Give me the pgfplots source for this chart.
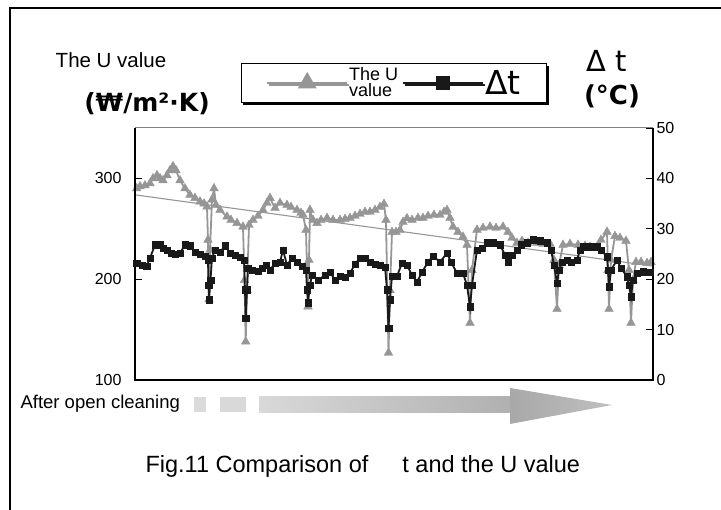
\documentclass[border=0pt]{standalone}
\usepackage{fontspec}
\setmainfont{Liberation Sans}
\newfontfamily\djv{DejaVu Sans}
\usepackage{pgfplots}
\pgfplotsset{compat=1.18}
\usetikzlibrary{shadows}

\definecolor{ugray}{RGB}{150,150,150}
\definecolor{tblack}{RGB}{25,25,25}

% U value (W/m2K), x in pixel units along the axis
\pgfplotstableread{
x U
1.7 290
5 292
10 293
15 295
18 300
22 303
25 300
28 298
32 303
35 308
38 312
41 308
45 298
50 290
55 283.5
60 280.5
65 277
69 275
72 272
73 239
74 180
75 229
77 279
79 290
81 273.6
85 268.6
92 262
96 258.7
102 255.7
108 252
109.5 199
110.7 138
112 189
114 253.8
118 258.7
123 262.7
128 268.6
132 275.6
135 280.5
140 270.6
145 275.6
152 273.6
156 271.6
162 268.6
166 265.7
168 263.7
171 248.8
173 172.7
174 219
175 268.6
178 258.7
182 255.7
186 258.7
192 260.7
198 258.7
205 258.7
210 259.7
215 260.7
220 262.7
225 264.7
230 266.7
235 266.7
240 268.6
245 271.6
249 274.6
251 258.7
253.5 127
255 189
257 246.8
261 246.8
265 248.8
268 256.7
272 260.4
277 258.7
283 260.7
288 260.7
293 262.7
299 263.7
305 263.7
309 266.7
312 268.6
315 260.7
318 252
323 246.8
328 242
332 234
335 156.6
337 209
342 249
348 250.8
355 252
361 250.8
368 252
373 246.8
377 240.9
382 236
387 238
393 236
402 236
408 235
415 235
419 219
422 170.4
424 214
428 234
435 235
443 234
450 233
455 232
462 232
466 238.9
472 247
473 209
474 170.4
476 219
480 242.8
485 240.9
491 238
494 209
496 156.6
498 199
501 217
506 217
512 216
516 217
}\utable

% temperature difference (C)
\pgfplotstableread{
x t
1.7 23.2
7 22.8
11.7 22.6
15 24.2
20 26.8
25 26.8
28 26.2
32 25.8
36 25.2
40 25.0
45 25.2
50 26.8
55 26.6
60 25.4
65 25.0
70 24.6
73 23.8
73.5 18.8
74 15.9
75.5 19.8
77 24.2
80 25.8
85 25.4
90 26.6
95 25.2
100 24.8
105 24.4
109 23.8
110 17.9
110.7 12.3
112 17.9
113 22.2
117 21.8
123 21.6
127 22.2
131 22.8
135 21.8
140 23.2
145 23.4
148 25.8
152 22.8
157 24.2
162 23.4
167 22.6
171 21.8
172 17.9
173 15.3
175 18.8
177 20.8
183 19.8
190 20.8
195 21.4
200 19.8
205 20.6
210 20.4
215 21.2
220 23.0
225 24.2
230 24.2
235 23.4
240 23.0
245 22.8
250 22.4
252 17.9
253.5 10.3
255 15.9
257 20.6
262 20.6
267 23.2
272 22.8
277 20.8
282 19.4
287 21.4
293 23.4
298 24.6
305 23.4
312 25.2
316 23.4
322 21.2
328 21.2
332 18.8
335 14.5
337 18.8
342 25.8
347 26.2
352 27.2
358 27.2
365 26.8
370 24.8
373 23.5
377 24.8
382 25.8
386 26.8
392 27.2
398 27.8
405 27.6
412 27.2
416 25.8
419 22.8
422 19.2
424 21.8
427 23.4
432 23.8
436 23.4
442 23.8
445 25.8
448 26.4
455 26.4
462 26.4
466 25.8
472 24.5
473 21.8
474 18.5
476 21.8
482 23.8
486 22.2
492 20.5
494 18.8
496 16.5
498 19.8
502 21.2
508 21.5
515 21.4
}\ttable

\begin{document}
\begin{tikzpicture}[x=1pt,y=1pt]
\path[use as bounding box] (0,0) rectangle (721,-510);
\draw[line width=1.5pt] (10,-510)--(10,-8)--(721,-8);

\pgfplotsset{
  base/.style={
    at={(135pt,-380pt)}, anchor=south west,
    scale only axis, width=518pt, height=252pt,
    xmin=0, xmax=518, xtick=\empty,
    axis line style={draw=none},
    major tick length=7pt,
    tick style={black, line width=1.3pt},
    /pgf/number format/assume math mode=true,
    ticklabel style={font=\fontsize{16}{16}\selectfont},
    clip=false,
  }
}

\begin{axis}[base,
  ymin=100, ymax=350, ytick={100,200,300}, ytick pos=left,
  yticklabel style={xshift=-10pt}]
\addplot[ugray, line width=1.1pt] coordinates {(0,283.7) (518,213)};
\addplot[ugray, line width=1.8pt, mark=triangle*, mark size=5pt,
  mark options={fill=ugray, draw=ugray, line width=0.4pt}] table[x=x,y=U]{\utable};
\end{axis}

\begin{axis}[base,
  ymin=0, ymax=50, ytick={0,10,...,50}, ytick pos=right,
  legend style={at={(axis description cs:0.5,1.1786)}, anchor=center,
    draw=black, line width=1.4pt, inner xsep=25pt, inner ysep=3pt,
    drop shadow={shadow xshift=2pt, shadow yshift=-2.5pt, fill=black, opacity=1},
    font=\fontsize{18}{15}\selectfont,
    /tikz/every even column/.append style={column sep=3pt},
    nodes={inner sep=1pt}},
  legend columns=2,
  legend image code/.code={
    \draw[mark repeat=2, mark phase=2, #1] plot coordinates {(0pt,0pt) (40pt,0pt) (80pt,0pt)};}]
\addlegendimage{ugray, line width=2pt, mark=triangle*, mark size=9pt, mark options={fill=ugray}}
\addlegendentry{\shortstack[l]{The U\\value}}
\addlegendimage{tblack, line width=2pt, mark=square*, mark size=6pt, mark options={fill=tblack}}
\addlegendentry{\fontsize{33}{30}\selectfont\djv Δt}
\addplot[tblack, line width=1.8pt, mark=square*, mark size=3.3pt,
  mark options={fill=tblack, line width=0.3pt}, forget plot] table[x=x,y=t]{\ttable};
\draw[line width=1.7pt] (rel axis cs:0,1)--(rel axis cs:0,0)--(rel axis cs:1,0)--(rel axis cs:1,1);
\draw[gray, line width=1pt] (rel axis cs:0,1)--(rel axis cs:1,1);
\end{axis}

% axis titles
\node[font=\fontsize{20.5}{20}\selectfont] at (111,-60) {The U value};
\node[font=\fontsize{25}{25}\selectfont\djv\bfseries] at (147,-104) {(₩/m²·K)};
\node[font=\fontsize{29}{29}\selectfont\djv] at (607,-61) {Δ t};
\node[font=\fontsize{26}{26}\selectfont\djv\bfseries] at (612,-96) {(°C)};

% cleaning arrow
\node[anchor=west, font=\fontsize{18.5}{18}\selectfont] at (17,-404) {After open cleaning};
\fill[gray!28] (194,-397) rectangle (206,-412);
\fill[gray!30] (220,-397) rectangle (246,-412);
\shade[left color=gray!30, right color=gray!62] (259,-397) rectangle (512,-413);
\shade[left color=gray!68, right color=gray!50] (510,-388)--(612,-405)--(510,-424)--cycle;

% caption
\node[anchor=west, font=\fontsize{23.5}{23}\selectfont] at (142,-466)
  {Fig.11 Comparison of\hspace{34pt}t and the U value};
\end{tikzpicture}
\end{document}
